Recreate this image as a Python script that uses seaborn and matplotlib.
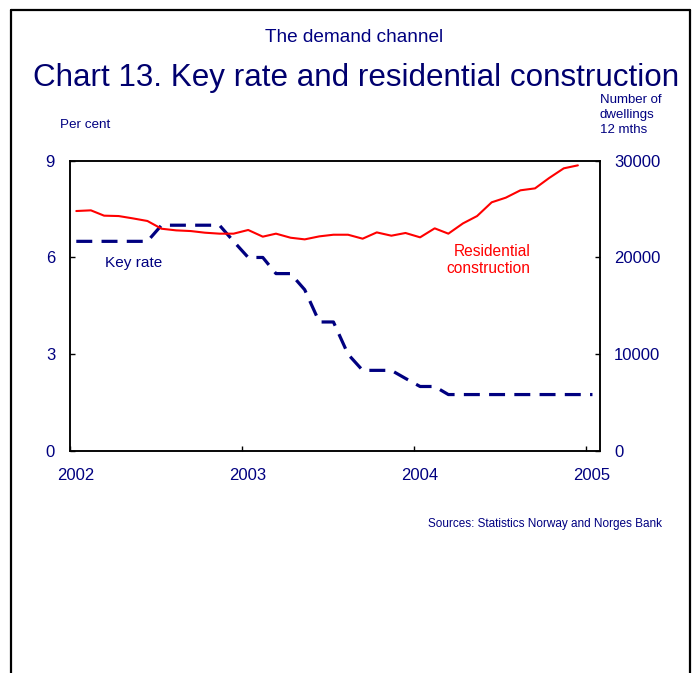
import pandas as pd
import numpy as np
import matplotlib
matplotlib.use("Agg")
import matplotlib.pyplot as plt
from matplotlib.lines import Line2D
from matplotlib.transforms import ScaledTranslation
import seaborn as sns

# monthly observations, plotted at mid-month
months = pd.date_range("2002-01-01", "2005-01-01", freq="MS") + pd.Timedelta(days=14)

# key rate, per cent (Jan 2002 - Jan 2005)
key_rate = [6.5, 6.5, 6.5, 6.5, 6.5, 6.5,
            7.0, 7.0, 7.0, 7.0, 7.0,
            6.5, 6.0, 6.0, 5.5, 5.5, 5.0, 4.0, 4.0, 3.0,
            2.5, 2.5, 2.5, 2.25, 2.0, 2.0,
            1.75, 1.75, 1.75, 1.75, 1.75, 1.75, 1.75, 1.75, 1.75, 1.75, 1.75]

# residential construction, number of dwellings, 12 months (Jan 2002 - Dec 2004)
dwellings = [24800, 24870, 24320, 24280, 24040, 23770, 22970, 22800, 22730, 22560,
             22460, 22460, 22840, 22150, 22460, 22040, 21870, 22180, 22350, 22350,
             21940, 22590, 22250, 22530, 22080, 23010, 22460, 23520, 24280, 25700,
             26180, 26940, 27140, 28210, 29210, 29520]

year_ticks = ["2002", "2003", "2004", "2005"]
left_ticks = [0, 3, 6, 9]
right_ticks = [0, 10000, 20000, 30000]

navy = "#000080"
red = "#ff0000"

sns.set_style("white")
plt.rcParams["font.family"] = ["Liberation Sans", "DejaVu Sans"]

fig = plt.figure(figsize=(6.96, 6.73), dpi=100)
W, H = 696, 673
ax = fig.add_axes([69.7 / W, 1 - 451 / H, (600 - 69.7) / W, (451 - 160.7) / H])
ax2 = ax.twinx()

kr = pd.DataFrame({"date": months, "rate": key_rate})
rc = pd.DataFrame({"date": months[:len(dwellings)], "dw": dwellings})

sns.lineplot(data=kr, x="date", y="rate", ax=ax, color=navy, lw=2.3,
             dashes=False, linestyle=(0, (5.0, 2.9)))
sns.lineplot(data=rc, x="date", y="dw", ax=ax2, color=red, lw=1.5)

ax.set_xlim(pd.Timestamp("2002-01-01"), pd.Timestamp("2005-01-31"))
ax.set_ylim(0, 9)
ax2.set_ylim(0, 30000)
ax.set_yticks(left_ticks)
ax2.set_yticks(right_ticks)
ax2.set_yticklabels([str(v) for v in right_ticks])
ax.set_xticks([pd.Timestamp(y + "-01-01") for y in year_ticks])
ax.set_xticklabels(year_ticks)
ax.set_xlabel("")
ax.set_ylabel("")
ax2.set_ylabel("")

for a in (ax, ax2):
    for s in a.spines.values():
        s.set_color("black")
        s.set_linewidth(1.1)
        s.set_visible(True)
ax.tick_params(axis="both", direction="in", length=3.6, width=1, colors="black",
               labelcolor=navy, labelsize=12, pad=10.5)
ax.tick_params(axis="y", left=True)
ax.tick_params(axis="x", bottom=True, pad=12)
ax2.tick_params(axis="y", direction="in", length=3.6, width=1, colors="black",
                labelcolor=navy, labelsize=12, pad=10, right=True)

shift = ScaledTranslation(6 / 100, 0, fig.dpi_scale_trans)
for lab in ax.get_xticklabels():
    lab.set_transform(lab.get_transform() + shift)

# line labels
ax.text(pd.Timestamp("2002-03-17"), 5.71, "Key rate", color=navy, fontsize=11.1,
        ha="left", va="baseline")
ax2.text(pd.Timestamp("2004-09-06"), 18360, "Residential\nconstruction", color=red,
         fontsize=11.2, ha="right", va="baseline", multialignment="right")

# titles and notes
fig.text(354 / W, 1 - 41.7 / H, "The demand channel", ha="center", va="baseline",
         fontsize=13.7, color=navy)
fig.text(355.6 / W, 1 - 86 / H, "Chart 13. Key rate and residential construction",
         ha="center", va="baseline", fontsize=22.6, color="#00006e")
fig.text(60 / W, 1 - 128 / H, "Per cent", ha="left", va="baseline", fontsize=9.7,
         color=navy)
fig.text(600 / W, 1 - 133 / H, "Number of\ndwellings\n12 mths", ha="left",
         va="baseline", fontsize=9.5, color=navy, linespacing=1.35)
fig.text(661.8 / W, 1 - 524 / H, "Sources: Statistics Norway and Norges Bank",
         ha="right", va="center", fontsize=8.5, color=navy)

# page frame, open at the bottom
frame = dict(color="black", lw=1.6, transform=fig.transFigure)
fig.add_artist(Line2D([11 / W, 11 / W], [0, 1 - 10 / H], **frame))
fig.add_artist(Line2D([11 / W, 690 / W], [1 - 10 / H, 1 - 10 / H], **frame))
fig.add_artist(Line2D([690 / W, 690 / W], [0, 1 - 10 / H], **frame))

fig.savefig("out.png", dpi=100)
